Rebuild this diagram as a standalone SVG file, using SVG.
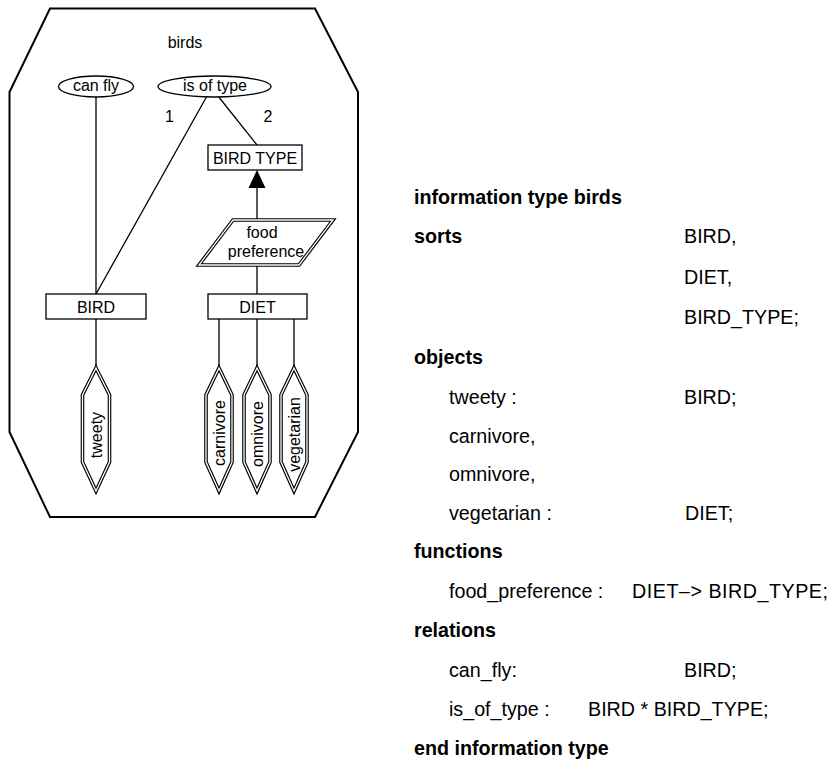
<svg xmlns="http://www.w3.org/2000/svg" width="832" height="772" viewBox="0 0 832 772">
<style>
  text { font-family: "Liberation Sans", Arial, sans-serif; fill: #000; }
  .d { font-size: 16px; text-anchor: middle; }
  .r { font-size: 19.7px; }
  .b { font-weight: bold; }
  .box { fill: #fff; stroke: #000; stroke-width: 1.3; }
  .ell { fill: #fff; stroke: #000; stroke-width: 1.3; }
  .dbl { fill: #fff; stroke: #000; stroke-width: 3.6; stroke-linejoin: miter; }
  .dbli { fill: none; stroke: #fff; stroke-width: 1.3; stroke-linejoin: miter; }
  .con { stroke: #000; stroke-width: 1.3; fill: none; }
</style>
<rect width="832" height="772" fill="#fff"/>
<g id="frame">
  <polygon points="50,8.5 315,8.5 358,92 358,432 315,517 50,517 9.5,432 9.5,92" fill="none" stroke="#000" stroke-width="2"/>
  <text class="d" x="185" y="48">birds</text>
</g>
<g id="connectors">
  <line class="con" x1="96" y1="97" x2="96" y2="368"/>
  <line class="con" x1="207" y1="96" x2="96" y2="294"/>
  <line class="con" x1="218" y1="96" x2="257" y2="145"/>
  <line class="con" x1="257" y1="220" x2="257" y2="186"/>
  <polygon points="257,170 248.5,188 265.5,188" fill="#000"/>
  <line class="con" x1="257" y1="265" x2="257" y2="294"/>
  <line class="con" x1="219" y1="319" x2="219" y2="368"/>
  <line class="con" x1="257" y1="319" x2="257" y2="368"/>
  <line class="con" x1="294" y1="319" x2="294" y2="368"/>
  <text class="d" x="169.5" y="122">1</text>
  <text class="d" x="268" y="122">2</text>
</g>
<g id="can-fly">
  <ellipse class="ell" cx="96" cy="86.5" rx="37.5" ry="10.5"/>
  <text class="d" x="96" y="91">can fly</text>
</g>
<g id="is-of-type">
  <ellipse class="ell" cx="214.5" cy="86.5" rx="56.5" ry="10.5"/>
  <text class="d" x="215" y="91">is of type</text>
</g>
<g id="bird-type">
  <rect class="box" x="208" y="145" width="94" height="25"/>
  <text class="d" x="255" y="163.5">BIRD TYPE</text>
</g>
<g id="food-preference">
  <polygon class="dbl" points="233,220 333,220 299,265 199,265"/>
  <polygon class="dbli" points="233,220 333,220 299,265 199,265"/>
  <text class="d" x="262" y="238">food</text>
  <text class="d" x="266" y="257">preference</text>
</g>
<g id="bird">
  <rect class="box" x="46" y="294" width="100" height="25"/>
  <text class="d" x="96" y="312.5">BIRD</text>
</g>
<g id="diet">
  <rect class="box" x="208" y="294" width="99" height="25"/>
  <text class="d" x="257.5" y="312.5">DIET</text>
</g>
<g id="tweety">
  <polygon class="dbl" points="96,368 109.5,395 109.5,462 96,491 82.5,462 82.5,395"/>
  <polygon class="dbli" points="96,368 109.5,395 109.5,462 96,491 82.5,462 82.5,395"/>
  <text class="d" transform="translate(96,435) rotate(-90)" x="0" y="5.5">tweety</text>
</g>
<g id="carnivore">
  <polygon class="dbl" points="219,368 232,395 232,462 219,491 206,462 206,395"/>
  <polygon class="dbli" points="219,368 232,395 232,462 219,491 206,462 206,395"/>
  <text class="d" transform="translate(219,433) rotate(-90)" x="0" y="5.5">carnivore</text>
</g>
<g id="omnivore">
  <polygon class="dbl" points="257,368 270,395 270,462 257,491 244,462 244,395"/>
  <polygon class="dbli" points="257,368 270,395 270,462 257,491 244,462 244,395"/>
  <text class="d" transform="translate(257,434) rotate(-90)" x="0" y="5.5">omnivore</text>
</g>
<g id="vegetarian">
  <polygon class="dbl" points="294,368 307,395 307,462 294,491 281,462 281,395"/>
  <polygon class="dbli" points="294,368 307,395 307,462 294,491 281,462 281,395"/>
  <text class="d" transform="translate(294,434.5) rotate(-90)" x="0" y="5.5">vegetarian</text>
</g>
<g id="specification">
  <text class="r b" x="414" y="204">information type birds</text>
  <text class="r b" x="414" y="243">sorts</text>
  <text class="r" x="684" y="243">BIRD,</text>
  <text class="r" x="684" y="284">DIET,</text>
  <text class="r" x="684" y="324">BIRD_TYPE;</text>
  <text class="r b" x="414" y="364">objects</text>
  <text class="r" x="449" y="404">tweety :</text>
  <text class="r" x="684" y="404">BIRD;</text>
  <text class="r" x="449" y="443">carnivore,</text>
  <text class="r" x="449" y="481">omnivore,</text>
  <text class="r" x="449" y="520">vegetarian :</text>
  <text class="r" x="685" y="520">DIET;</text>
  <text class="r b" x="414" y="558">functions</text>
  <text class="r" x="449" y="598">food_preference :</text>
  <text class="r" x="632" y="598" textLength="196" lengthAdjust="spacing">DIET–&gt; BIRD_TYPE;</text>
  <text class="r b" x="414" y="637">relations</text>
  <text class="r" x="449" y="677">can_fly:</text>
  <text class="r" x="684" y="677">BIRD;</text>
  <text class="r" x="449" y="716">is_of_type :</text>
  <text class="r" x="588" y="716">BIRD * BIRD_TYPE;</text>
  <text class="r b" x="414" y="755">end information type</text>
</g>
</svg>
